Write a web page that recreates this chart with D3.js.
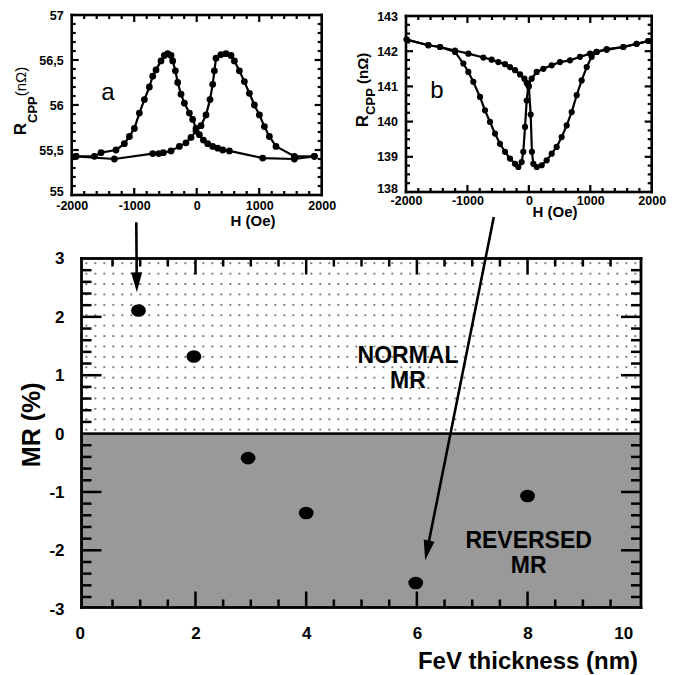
<!DOCTYPE html>
<html>
<head>
<meta charset="utf-8">
<script src="https://cdn.jsdelivr.net/npm/d3@7"></script>
<style>
  body { margin: 0; background: #fff; }
</style>
</head>
<body>
<div id="chart"></div>
<script>
// ---- main chart data: MR vs FeV thickness ----
var thickness = [0.97, 1.97, 2.95, 4.0, 5.98, 8.0];
var mrPercent = [2.11, 1.32, -0.42, -1.36, -2.56, -1.07];
var mainXTicks = [0, 2, 4, 6, 8, 10];
var mainYTicks = [-3, -2, -1, 0, 1, 2, 3];

// ---- inset a: R_CPP (nOhm) vs H (Oe) ----
var aFieldDown = [1883, 1563, 1056, 523, 416, 336, 256, 176, 107, 43, -11, -64, -117, -197, -251, -304, -341, -384, -411,
                  -464, -517, -571, -651, -704, -757, -837, -917, -997, -1077, -1157, -1291, -1531, -1637, -1931];
var aResDown   = [55.43, 55.40, 55.41, 55.49, 55.50, 55.52, 55.54, 55.57, 55.61, 55.67, 55.74, 55.84, 55.91, 56.02, 56.12, 56.25, 56.38, 56.49, 56.55,
                  56.57, 56.55, 56.49, 56.39, 56.32, 56.20, 56.06, 55.91, 55.74, 55.65, 55.57, 55.50, 55.47, 55.43, 55.43];
var aFieldUp   = [-1931, -1317, -704, -608, -533, -411, -277, -171, -91, -11, 69, 149, 213, 256, 283, 309, 389, 469, 549,
                  603, 683, 763, 843, 923, 1003, 1083, 1163, 1269, 1563, 1883];
var aResUp     = [55.43, 55.40, 55.46, 55.46, 55.47, 55.49, 55.54, 55.58, 55.64, 55.71, 55.77, 55.89, 56.06, 56.23, 56.38, 56.52, 56.56, 56.57, 56.55,
                  56.49, 56.38, 56.26, 56.13, 56.00, 55.89, 55.76, 55.65, 55.54, 55.43, 55.43];
var aXTicks = [-2000, -1000, 0, 1000, 2000];
var aYTicks = [55, 55.5, 56, 56.5, 57];

// ---- inset b: R_CPP (nOhm) vs H (Oe) ----
var bFieldDown = [1945, 1755, 1538, 1267, 1104, 996, 833, 670, 507, 372, 236, 128, 46, -8, -35, -62, -90, -117, -171, -225,
                  -307, -388, -470, -551, -632, -714, -795, -904, -985, -1066, -1202, -1446, -1636, -1989];
var bResDown   = [142.29, 142.21, 142.12, 142.04, 141.98, 141.93, 141.84, 141.74, 141.69, 141.60, 141.50, 141.41, 141.22, 141.03, 140.60, 139.85, 139.14, 138.85, 138.71, 138.80,
                  138.95, 139.14, 139.37, 139.66, 139.99, 140.32, 140.70, 141.13, 141.41, 141.65, 141.98, 142.12, 142.17, 142.33];
var bFieldUp   = [-1989, -1636, -1446, -1202, -985, -741, -606, -497, -388, -307, -225, -144, -73, -35, 0, 30, 50, 73, 128, 209,
                  290, 372, 453, 534, 616, 697, 779, 860, 942, 1023, 1104, 1267, 1538, 1755, 1945];
var bResUp     = [142.33, 142.17, 142.12, 142.02, 141.93, 141.82, 141.76, 141.69, 141.63, 141.55, 141.46, 141.34, 141.22, 141.10, 141.00, 140.20, 139.14, 138.80, 138.71, 138.76,
                  138.90, 139.09, 139.28, 139.56, 139.89, 140.27, 140.75, 141.17, 141.55, 141.84, 141.98, 142.06, 142.12, 142.21, 142.29];
var bXTicks = [-2000, -1000, 0, 1000, 2000];
var bYTicks = [138, 139, 140, 141, 142, 143];

var FAMILY = "Liberation Sans, Arial, Helvetica, sans-serif";
var plain = function(d){ return String(d); };

function font(sel, size, weight){
	return sel.attr("font-family", FAMILY)
	    .attr("font-size", size)
	    .attr("font-weight", weight || "normal");
}

var svg = d3.select("#chart").append("svg")
    .attr("width", 673)
    .attr("height", 675);

svg.append("rect").attr("width", 673).attr("height", 675).attr("fill", "#fff");

function rangeStep(a, b, s){
	var out = [];
	var n = Math.round((b - a) / s);
	for (var i = 0; i <= n; i++) out.push(+(a + i * s).toFixed(4));
	return out;
}

// tick marks and frame edges as small filled rects, collected and drawn last
var tickRects = [];
function addFrame(x, y, o){
	var left = x.range()[0], right = x.range()[1];
	var bottom = y.range()[0], top = y.range()[1];
	var tw = o.tickWidth, fw = o.frameWidth;

	function xTick(v, len){
		tickRects.push({x: x(v) - tw / 2, y: bottom - len, w: tw, h: len});
		tickRects.push({x: x(v) - tw / 2, y: top, w: tw, h: len});
	}
	function yTick(v, len){
		tickRects.push({x: left, y: y(v) - tw / 2, w: len, h: tw});
		tickRects.push({x: right - len, y: y(v) - tw / 2, w: len, h: tw});
	}
	o.xMinor.forEach(function(v){ xTick(v, o.xMinorLen); });
	o.xMajor.forEach(function(v){ xTick(v, o.xMajorLen); });
	o.yMinor.forEach(function(v){ yTick(v, o.yMinorLen); });
	o.yMajor.forEach(function(v){ yTick(v, o.yMajorLen); });

	// frame edges
	tickRects.push({x: left - fw / 2, y: top - fw / 2, w: right - left + fw, h: fw});
	tickRects.push({x: left - fw / 2, y: bottom - fw / 2, w: right - left + fw, h: fw});
	tickRects.push({x: left - fw / 2, y: top - fw / 2, w: fw, h: bottom - top + fw});
	tickRects.push({x: right - fw / 2, y: top - fw / 2, w: fw, h: bottom - top + fw});
}

/*############################ MAIN CHART ############################*/
var x = d3.scaleLinear().domain([-0.06, 10.05]).range([81.5, 641]);
var y = d3.scaleLinear().domain([-2.98, 3]).range([607.5, 258.5]);

var defs = svg.append("defs");
var pat = defs.append("pattern")
    .attr("id", "dots")
    .attr("patternUnits", "userSpaceOnUse")
    .attr("x", 81.5).attr("y", 258.5)
    .attr("width", 9).attr("height", 10.4);
pat.append("rect").attr("x", 4).attr("y", 4).attr("width", 1.5).attr("height", 1.5).attr("fill", "#222");

var main = svg.append("g");

main.append("rect")
    .attr("x", x.range()[0]).attr("y", y(3))
    .attr("width", x.range()[1] - x.range()[0])
    .attr("height", y(0) - y(3))
    .attr("fill", "url(#dots)");

main.append("rect")
    .attr("x", x.range()[0]).attr("y", y(0))
    .attr("width", x.range()[1] - x.range()[0])
    .attr("height", y.range()[0] - y(0))
    .attr("fill", "#999999");

main.append("rect")
    .attr("x", x.range()[0]).attr("y", y(0) - 1.25)
    .attr("width", x.range()[1] - x.range()[0])
    .attr("height", 2.5)
    .attr("fill", "#000");

addFrame(x, y, {
	xMinor: rangeStep(0.5, 9.5, 0.5).filter(function(v){ return v % 2 !== 0; }),
	xMajor: [2, 4, 6, 8],
	yMinor: rangeStep(-2.8, 2.8, 0.2).filter(function(v){ return Math.abs(v - Math.round(v)) > 0.01; }),
	yMajor: [-2, -1, 1, 2],
	xMinorLen: 8, xMajorLen: 16, yMinorLen: 10, yMajorLen: 20,
	tickWidth: 2.5, frameWidth: 2.8
});

// tick labels
var xLabelShift = {0: -5, 10: -15};
var xLab = main.append("g")
    .attr("transform", "translate(0," + y.range()[0] + ")")
    .call(d3.axisBottom(x).tickValues(mainXTicks).tickSize(0).tickPadding(19).tickFormat(plain));
xLab.select(".domain").remove();
font(xLab.selectAll("text"), 17, "bold")
    .attr("dx", function(d){ return xLabelShift[d] || 0; })
    .attr("fill", "#000");

var yLab = main.append("g")
    .attr("transform", "translate(" + (x.range()[0] - 17) + ",0)")
    .call(d3.axisLeft(y).tickValues(mainYTicks).tickSize(0).tickPadding(0).tickFormat(plain));
yLab.select(".domain").remove();
font(yLab.selectAll("text"), 17, "bold").attr("fill", "#000");

main.selectAll(".pt")
    .data(thickness)
    .enter().append("ellipse")
    .attr("class", "pt")
    .attr("cx", function(d){ return x(d); })
    .attr("cy", function(d, i){ return y(mrPercent[i]); })
    .attr("rx", 7.4).attr("ry", 6.3)
    .attr("fill", "#000");

font(main.append("text"), 25, "bold")
    .attr("transform", "translate(40," + y(0.15) + ") rotate(-90)")
    .attr("text-anchor", "middle")
    .text("MR (%)");

font(main.append("text"), 24, "bold")
    .attr("x", 638).attr("y", 669)
    .attr("text-anchor", "end")
    .text("FeV thickness (nm)");

var regionLabels = [
	{t: "NORMAL", x: 5.84, y: 1.21},
	{t: "MR", x: 5.84, y: 0.78},
	{t: "REVERSED", x: 8.02, y: -1.96},
	{t: "MR", x: 8.02, y: -2.39}
];
font(main.selectAll(".reg")
    .data(regionLabels)
    .enter().append("text")
    .attr("class", "reg"), 23, "bold")
    .attr("x", function(d){ return x(d.x); })
    .attr("y", function(d){ return y(d.y); })
    .attr("text-anchor", "middle")
    .text(function(d){ return d.t; });

/*############################ INSETS ############################*/
function drawInset(o){
	var g = svg.append("g");
	var ix = o.x, iy = o.y;

	addFrame(ix, iy, {
		xMinor: rangeStep(-1800, 1800, 200).filter(function(v){ return v % 1000 !== 0; }),
		xMajor: [-1000, 0, 1000],
		yMinor: o.yMinor,
		yMajor: o.yMajor,
		xMinorLen: 4, xMajorLen: 7, yMinorLen: 4, yMajorLen: 7,
		tickWidth: 2.2, frameWidth: 2.6
	});

	var line = d3.line()
	    .x(function(d){ return ix(d[0]); })
	    .y(function(d){ return iy(d[1]); });

	o.curves.forEach(function(c){
		var pts = c.h.map(function(h, i){ return [h, c.r[i]]; });
		g.append("path")
		    .datum(pts)
		    .attr("d", line)
		    .attr("fill", "none")
		    .attr("stroke", "#000")
		    .attr("stroke-width", 2.2)
		    .attr("stroke-linejoin", "round");
		g.selectAll(null)
		    .data(pts)
		    .enter().append("circle")
		    .attr("cx", function(d){ return ix(d[0]); })
		    .attr("cy", function(d){ return iy(d[1]); })
		    .attr("r", o.dotR)
		    .attr("fill", "#000");
	});

	var xl = g.append("g")
	    .attr("transform", "translate(0," + iy.range()[0] + ")")
	    .call(d3.axisBottom(ix).tickValues(o.xTicks).tickSize(0).tickPadding(o.xPad).tickFormat(plain));
	xl.select(".domain").remove();
	font(xl.selectAll("text"), 12.5, "bold").attr("fill", "#000");

	var yl = g.append("g")
	    .attr("transform", "translate(" + (ix.range()[0] - 8) + ",0)")
	    .call(d3.axisLeft(iy).tickValues(o.yTicks).tickSize(0).tickPadding(0).tickFormat(o.yFormat));
	yl.select(".domain").remove();
	font(yl.selectAll("text"), 12.5, "bold")
	    .attr("dy", function(d){ return d === o.yTicks[0] ? "0.05em" : "0.32em"; })
	    .attr("fill", "#000");

	font(g.append("text"), 15, "bold")
	    .attr("x", o.hLabel[0]).attr("y", o.hLabel[1])
	    .attr("text-anchor", "middle")
	    .text("H (Oe)");

	font(g.append("text"), 24)
	    .attr("x", o.letter[0]).attr("y", o.letter[1])
	    .attr("text-anchor", "middle")
	    .text(o.letter[2]);

	var rl = font(g.append("text"), 17, "bold")
	    .attr("transform", "translate(" + o.rLabel[0] + "," + o.rLabel[1] + ") rotate(-90)")
	    .attr("text-anchor", "middle");
	rl.append("tspan").text("R");
	rl.append("tspan").attr("dy", o.subShift).attr("font-size", 13).text("CPP");
	rl.append("tspan").attr("dy", -o.subShift).attr("font-size", 15).attr("font-weight", o.unitWeight).text(o.unitText);
}

var commaFmt = function(d){ return (d % 1 === 0 ? String(d) : d3.format(".1f")(d).replace(".", ",")); };

drawInset({
	x: d3.scaleLinear().domain([-2000, 2000]).range([71.7, 321.7]),
	y: d3.scaleLinear().domain([55, 57]).range([195, 15]),
	yMinor: rangeStep(55.1, 56.9, 0.1).filter(function(v){ return Math.abs(v * 2 - Math.round(v * 2)) > 0.01; }),
	yMajor: [55.5, 56, 56.5],
	curves: [{h: aFieldDown, r: aResDown}, {h: aFieldUp, r: aResUp}],
	dotR: 3.4,
	xTicks: aXTicks, yTicks: aYTicks, yFormat: commaFmt, xPad: 6,
	hLabel: [253, 226],
	letter: [108, 100, "a"],
	rLabel: [26, 101], subShift: 11,
	unitWeight: "normal", unitText: "(n\u03A9)"
});

drawInset({
	x: d3.scaleLinear().domain([-2000, 2000]).range([406, 651.7]),
	y: d3.scaleLinear().domain([138, 143]).range([192, 16]),
	yMinor: rangeStep(138.25, 142.75, 0.25).filter(function(v){ return v % 1 !== 0; }),
	yMajor: [139, 140, 141, 142],
	curves: [{h: bFieldDown, r: bResDown}, {h: bFieldUp, r: bResUp}],
	dotR: 3.1,
	xTicks: bXTicks, yTicks: bYTicks, yFormat: plain, xPad: 4,
	hLabel: [555, 217],
	letter: [437, 98, "b"],
	rLabel: [368, 90], subShift: 7,
	unitWeight: "bold", unitText: " (n\u03A9)"
});

// arrows from insets to points (main coords)
var arrows = [
	{x1: 0.93, y1: 3.62, x2: 0.94, y2: 2.42},
	{x1: 7.39, y1: 3.71, x2: 6.15, y2: -2.17}
];
arrows.forEach(function(a){
	var X1 = x(a.x1), Y1 = y(a.y1), X2 = x(a.x2), Y2 = y(a.y2);
	var dx = X2 - X1, dy = Y2 - Y1, L = Math.sqrt(dx*dx + dy*dy);
	var ux = dx / L, uy = dy / L;
	var hl = 20, hw = 5.5;
	var hx = X2 - ux * hl, hy = Y2 - uy * hl;
	svg.append("line")
	    .attr("x1", X1).attr("y1", Y1)
	    .attr("x2", hx + ux * 2).attr("y2", hy + uy * 2)
	    .attr("stroke", "#000").attr("stroke-width", 2.6);
	svg.append("path")
	    .attr("d", "M" + X2 + "," + Y2 +
	               "L" + (hx - uy * hw) + "," + (hy + ux * hw) +
	               "L" + (hx + uy * hw) + "," + (hy - ux * hw) + "Z")
	    .attr("fill", "#000");
});

// ticks and frames on top
svg.append("g")
    .selectAll("rect")
    .data(tickRects)
    .enter().append("rect")
    .attr("x", function(d){ return d.x; })
    .attr("y", function(d){ return d.y; })
    .attr("width", function(d){ return d.w; })
    .attr("height", function(d){ return d.h; })
    .attr("fill", "#000");
</script>
</body>
</html>
